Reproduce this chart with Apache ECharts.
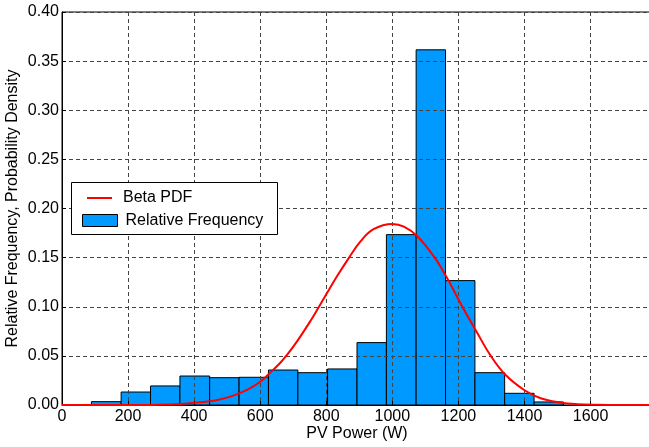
<!DOCTYPE html>
<html>
<head>
<meta charset="utf-8">
<script src="https://cdn.jsdelivr.net/npm/echarts@6/dist/echarts.min.js"></script>
<style>
html,body{margin:0;padding:0;background:#fff;}
#chart{width:649px;height:447px;}
</style>
</head>
<body>
<div id="chart"></div>
<script>
// Histogram bin edges (W) and relative frequencies
const binEdges = [89, 179, 268, 357, 447, 536, 625, 714, 804, 893, 982, 1072, 1161, 1250, 1340, 1429, 1518];
const relFreq = [0.0034, 0.0132, 0.0194, 0.0295, 0.0278, 0.0282, 0.0356, 0.0329, 0.0367, 0.0635, 0.1734, 0.3615, 0.1266, 0.0329, 0.0119, 0.0031];

// Beta PDF curve
const pdfX = [0, 250, 358, 400, 459, 510, 560, 600, 626, 661, 681, 711, 752, 777, 800, 832, 868, 903, 943, 1000, 1035, 1075, 1128, 1166, 1212, 1252, 1298, 1343, 1399, 1449, 1510, 1560, 1620, 1700, 1786];
const pdfY = [0, 0, 0.001, 0.0023, 0.0044, 0.0085, 0.0153, 0.0237, 0.0315, 0.043, 0.051, 0.0645, 0.0855, 0.0995, 0.1127, 0.1307, 0.1495, 0.1663, 0.1789, 0.1843, 0.1816, 0.172, 0.15, 0.129, 0.10, 0.0764, 0.05, 0.0305, 0.0153, 0.0068, 0.0024, 0.0008, 0.0002, 0, 0];

const xTicks = [0, 200, 400, 600, 800, 1000, 1200, 1400, 1600];
const yTicks = ['0.00','0.05','0.10','0.15','0.20','0.25','0.30','0.35','0.40'];

const FONT = 'Liberation Sans, Arial, Helvetica, sans-serif';
const chart = echarts.init(document.getElementById('chart'), null, {renderer: 'canvas'});

const histData = relFreq.map((v, i) => [binEdges[i], binEdges[i + 1], v]);
const pdfData = pdfX.map((x, i) => [x, pdfY[i]]);

const gridStyle = {show: true, lineStyle: {color: '#444', width: 1, type: [4, 3]}};

chart.setOption({
  animation: false,
  backgroundColor: '#fff',
  grid: {left: 62, right: -3, top: 12, bottom: 42, show: true, borderColor: '#000', borderWidth: 1,
    backgroundColor: 'transparent', containLabel: false, outerBoundsMode: 'none'},
  xAxis: {
    type: 'value', min: 0, max: 1786, interval: 200, z: 3,
    name: 'PV Power (W)', nameLocation: 'middle', nameGap: 21, nameMoveOverlap: false,
    nameTextStyle: {fontFamily: FONT, fontSize: 16, color: '#000'},
    axisLine: {show: true, lineStyle: {color: '#000', width: 1}},
    axisTick: {show: true, inside: true, length: 4, lineStyle: {color: '#000'}},
    axisLabel: {show: true, margin: 4, fontFamily: FONT, fontSize: 16, color: '#000', showMaxLabel: false,
      formatter: v => xTicks.indexOf(v) >= 0 ? String(v) : ''},
    splitLine: gridStyle
  },
  yAxis: {
    type: 'value', min: 0, max: 0.4, interval: 0.05, z: 3,
    name: 'Relative Frequency, Probability Density', nameLocation: 'middle', nameGap: 41, nameMoveOverlap: false,
    nameTextStyle: {fontFamily: FONT, fontSize: 16, color: '#000'},
    axisLine: {show: true, lineStyle: {color: '#000', width: 1}},
    axisTick: {show: true, inside: true, length: 4, lineStyle: {color: '#000'}},
    axisLabel: {show: true, margin: 3, fontFamily: FONT, fontSize: 16, color: '#000',
      formatter: v => yTicks[Math.round(v / 0.05)]},
    splitLine: gridStyle
  },
  graphic: [{
    type: 'rect', z: 10, left: 71, top: 182,
    shape: {width: 206, height: 52},
    style: {fill: '#fff', stroke: '#000', lineWidth: 1}
  }],
  legend: [{
    z: 11, left: 82, top: 185, orient: 'vertical',
    itemWidth: 25, itemHeight: 2,
    data: [{name: 'Beta PDF', icon: 'rect', itemStyle: {color: '#ff0000', borderWidth: 0}}],
    textStyle: {fontFamily: FONT, fontSize: 16, color: '#000', padding: [0, 0, 0, 6]}
  }, {
    z: 11, left: 77, top: 207.5, orient: 'vertical',
    itemWidth: 35, itemHeight: 12,
    data: [{name: 'Relative Frequency', icon: 'rect', itemStyle: {color: '#0099ff', borderColor: '#000', borderWidth: 1}}],
    textStyle: {fontFamily: FONT, fontSize: 16, color: '#000', padding: [0, 0, 0, 3]}
  }],
  series: [{
    name: 'Relative Frequency',
    type: 'custom', z: 2,
    data: histData,
    encode: {x: [0, 1], y: 2},
    itemStyle: {color: '#0099ff', borderColor: '#000', borderWidth: 1},
    renderItem: function (params, api) {
      const p0 = api.coord([api.value(0), api.value(2)]);
      const p1 = api.coord([api.value(1), 0]);
      return {
        type: 'rect',
        shape: {x: p0[0], y: p0[1], width: p1[0] - p0[0], height: p1[1] - p0[1]},
        style: {fill: '#0099ff', stroke: '#000', lineWidth: 1}
      };
    }
  }, {
    name: 'Beta PDF',
    type: 'line', z: 5,
    data: pdfData,
    smooth: 0.4,
    symbol: 'none', showSymbol: false,
    lineStyle: {color: '#ff0000', width: 2},
    itemStyle: {color: '#ff0000'}
  }]
});
</script>
</body>
</html>
